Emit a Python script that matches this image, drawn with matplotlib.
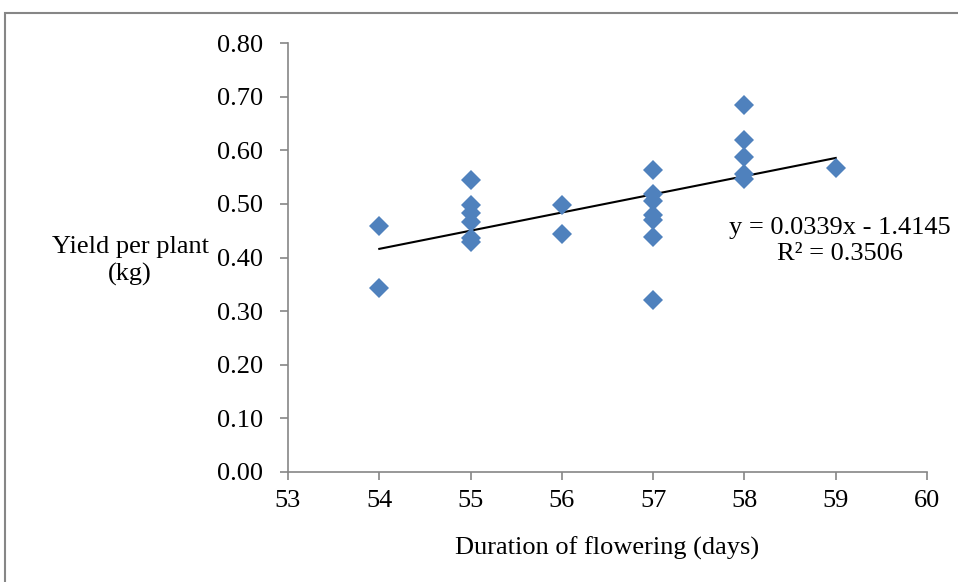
import matplotlib.pyplot as plt
from matplotlib.patches import Rectangle

# data
duration = [54, 54,
            55, 55, 55, 55, 55, 55,
            56, 56,
            57, 57, 57, 57, 57, 57, 57,
            58, 58, 58, 58, 58,
            59]
yield_kg = [0.458, 0.343,
            0.545, 0.497, 0.483, 0.466, 0.437, 0.428,
            0.497, 0.443,
            0.564, 0.518, 0.506, 0.480, 0.470, 0.438, 0.320,
            0.684, 0.620, 0.588, 0.556, 0.546,
            0.567]

# trendline from the chart
slope = 0.0339
intercept = -1.4145
trend_x = [54, 59]

plt.rcParams['font.family'] = ['Liberation Serif', 'DejaVu Serif']
grey = '#868686'
fs = 19

fig = plt.figure(figsize=(9.58, 5.82), dpi=100)
ax = fig.add_axes([288 / 958, 1 - 472 / 582, (927 - 288) / 958, (472 - 43) / 582])

# outer chart border
fig.patches.append(Rectangle((5 / 958, -0.1), 1.2, 1 - 13 / 582 + 0.1,
                             transform=fig.transFigure, fill=False,
                             edgecolor=grey, linewidth=1.5))

ax.plot(duration, yield_kg, 'D', color='#4F81BD', markersize=10,
        markeredgewidth=0, zorder=3)
ax.plot(trend_x, [slope * x + intercept for x in trend_x], color='black',
        linewidth=1.5, zorder=2)

ax.set_xlim(53, 60)
ax.set_ylim(0, 0.8)
ax.set_xticks(range(53, 61))
ax.set_yticks([i / 10 for i in range(9)])
ax.set_yticklabels(['%.2f' % (i / 10) for i in range(9)])

for s in ['top', 'right']:
    ax.spines[s].set_visible(False)
for s in ['left', 'bottom']:
    ax.spines[s].set_color(grey)
    ax.spines[s].set_linewidth(1.2)
ax.tick_params(colors=grey, labelcolor='black', labelsize=fs, length=6, width=1.2)
ax.tick_params(axis='y', pad=12)
ax.tick_params(axis='x', pad=7)

ax.set_xlabel('Duration of flowering (days)', fontsize=fs, labelpad=18)
fig.text(130 / 958, 1 - 261 / 582, 'Yield per plant\n(kg)', fontsize=fs,
         ha='center', va='center', linespacing=1.3)

fig.text(840 / 958, 1 - 241 / 582, 'y = 0.0339x - 1.4145\nR² = 0.3506',
         fontsize=fs, ha='center', va='center', linespacing=1.2)

fig.savefig('out.png', dpi=100)
